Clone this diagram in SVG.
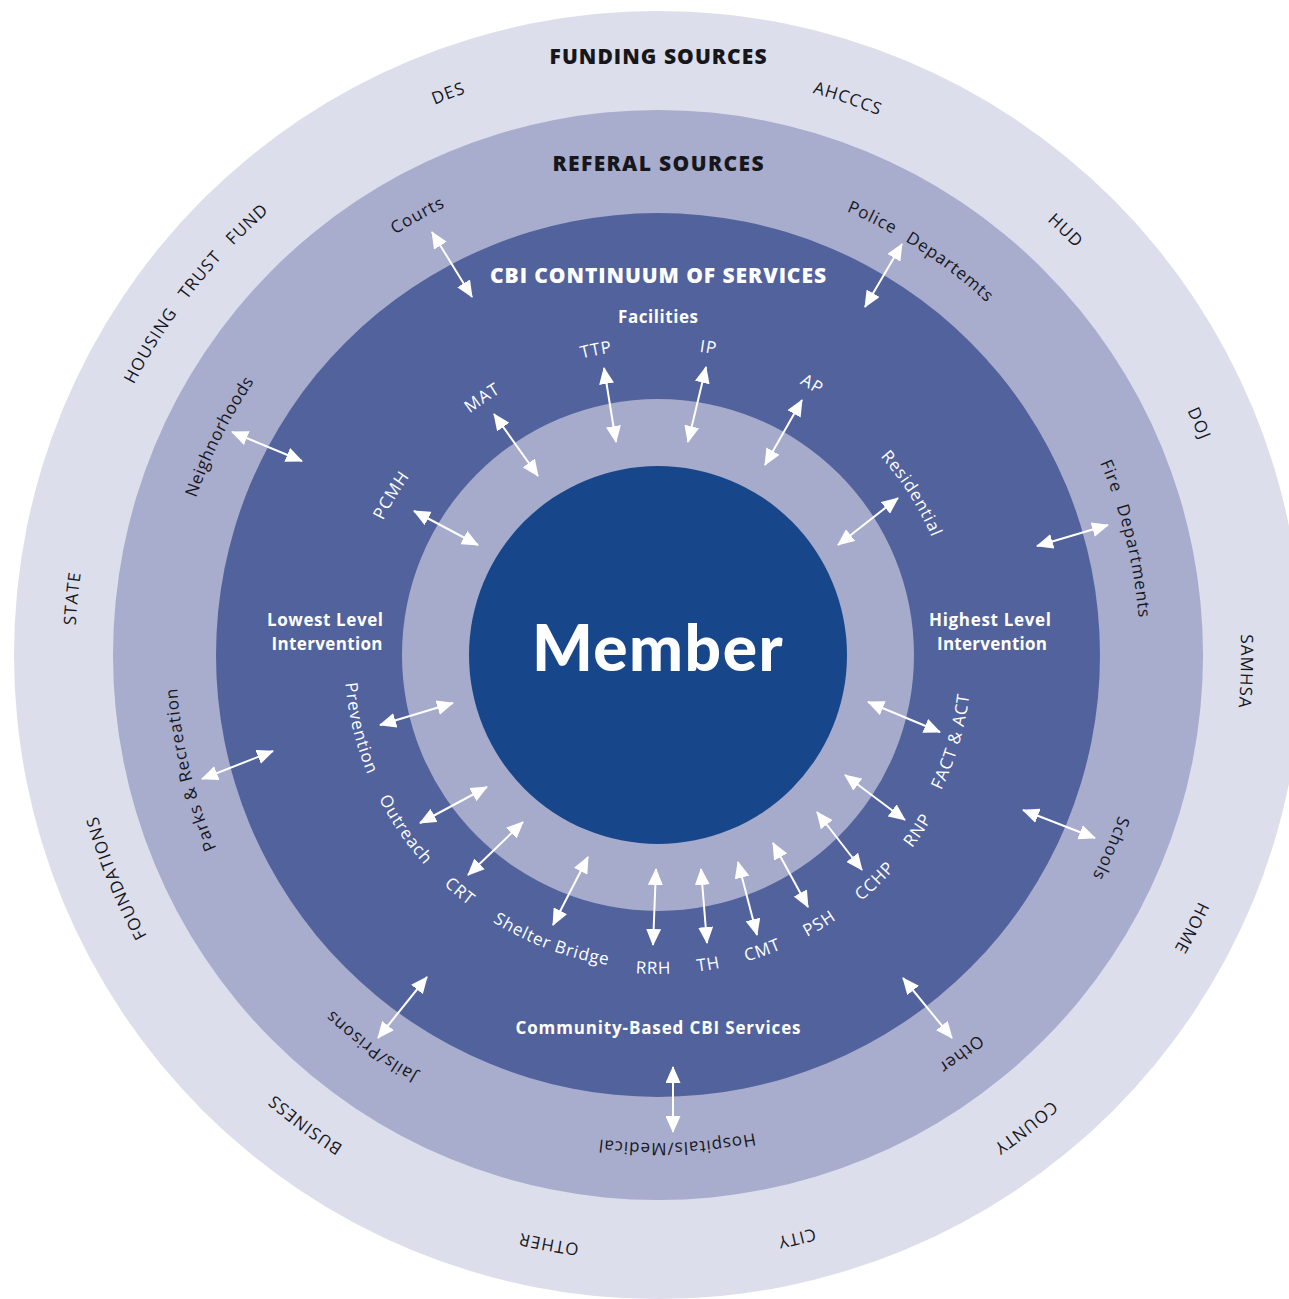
<svg xmlns="http://www.w3.org/2000/svg" xmlns:xlink="http://www.w3.org/1999/xlink" width="1289" height="1299" viewBox="0 0 1289 1299">
<style>
text{font-family:"Open Sans",Lato,"Liberation Sans",sans-serif}
.outer{font-size:17px;fill:#17171b;letter-spacing:1px}
.ref{font-size:17px;fill:#17171b;letter-spacing:0.9px}
.svc{font-size:17px;fill:#ffffff;letter-spacing:0.9px}
.hdr{font-weight:700;text-anchor:middle}
.ttl{font-weight:800;font-size:21px}
.sub{font-size:17px}
.dark{fill:#17171b}
.white{fill:#ffffff}
.mem{font-family:Lato,"Open Sans",sans-serif;font-size:64px;font-weight:900;fill:#ffffff;text-anchor:middle;letter-spacing:1.5px}
.conn line{stroke:#ffffff;stroke-width:2;marker-start:url(#ah);marker-end:url(#ah)}
</style>
<defs>
<marker id="ah" viewBox="0 0 17 15" refX="16" refY="7.5" markerWidth="17" markerHeight="15" markerUnits="userSpaceOnUse" orient="auto-start-reverse"><path d="M0,0 L17,7.5 L0,15 z" fill="#ffffff"/></marker>
<path id="cw583" d="M658,72 A583,583 0 0 1 658,1238 A583,583 0 0 1 658,72 A583,583 0 0 1 658,1238 A583,583 0 0 1 658,72"/>
<path id="cw590" d="M658,65 A590,590 0 0 1 658,1245 A590,590 0 0 1 658,65 A590,590 0 0 1 658,1245 A590,590 0 0 1 658,65"/>
<path id="cw594" d="M658,61 A594,594 0 0 1 658,1249 A594,594 0 0 1 658,61 A594,594 0 0 1 658,1249 A594,594 0 0 1 658,61"/>
<path id="cw482" d="M658,173 A482,482 0 0 1 658,1137 A482,482 0 0 1 658,173 A482,482 0 0 1 658,1137 A482,482 0 0 1 658,173"/>
<path id="cw488" d="M658,167 A488,488 0 0 1 658,1143 A488,488 0 0 1 658,167 A488,488 0 0 1 658,1143 A488,488 0 0 1 658,167"/>
<path id="cw496" d="M658,159 A496,496 0 0 1 658,1151 A496,496 0 0 1 658,159 A496,496 0 0 1 658,1151 A496,496 0 0 1 658,159"/>
<path id="cw306" d="M658,349 A306,306 0 0 1 658,961 A306,306 0 0 1 658,349 A306,306 0 0 1 658,961 A306,306 0 0 1 658,349"/>
<path id="cw298" d="M658,357 A298,298 0 0 1 658,953 A298,298 0 0 1 658,357 A298,298 0 0 1 658,953 A298,298 0 0 1 658,357"/>
<path id="ccw314" d="M658,341 A314,314 0 0 0 658,969 A314,314 0 0 0 658,341 A314,314 0 0 0 658,969 A314,314 0 0 0 658,341"/>
<path id="ccw319" d="M658,336 A319,319 0 0 0 658,974 A319,319 0 0 0 658,336 A319,319 0 0 0 658,974 A319,319 0 0 0 658,336"/>
</defs>
<rect width="1289" height="1299" fill="#ffffff"/>

<g id="ring-funding">
<circle cx="658" cy="655" r="644" fill="#DCDEEC"/>
<text class="hdr ttl dark" x="658" y="64" textLength="217" lengthAdjust="spacing">FUNDING SOURCES</text>
</g>
<g id="ring-referral">
<circle cx="658" cy="655" r="545" fill="#A8ACCD"/>
<text class="hdr ttl dark" x="658" y="171" textLength="211" lengthAdjust="spacing">REFERAL SOURCES</text>
</g>
<g id="ring-cbi">
<circle cx="658" cy="655" r="442" fill="#51629D"/>
<text class="hdr ttl white" x="658" y="283" textLength="336" lengthAdjust="spacing">CBI CONTINUUM OF SERVICES</text>
<text class="hdr sub white" x="658" y="323" textLength="80" lengthAdjust="spacing">Facilities</text>
<text class="hdr sub white" x="325" y="626" textLength="116" lengthAdjust="spacing">Lowest Level</text>
<text class="hdr sub white" x="327" y="650" textLength="111" lengthAdjust="spacing">Intervention</text>
<text class="hdr sub white" x="990" y="626" textLength="122" lengthAdjust="spacing">Highest Level</text>
<text class="hdr sub white" x="992" y="650" textLength="110" lengthAdjust="spacing">Intervention</text>
<text class="hdr sub white" x="658" y="1034" textLength="285" lengthAdjust="spacing">Community-Based CBI Services</text>
</g>
<g id="ring-inner">
<circle cx="658" cy="655" r="256" fill="#A6ABCB"/>
</g>
<g id="node-member">
<circle cx="658" cy="655" r="189" fill="#17468A"/>
<text class="mem" x="658" y="671">Member</text>
</g>

<g id="funding-sources">
<g id="f-des"><text class="outer"><textPath xlink:href="#cw594" href="#cw594" startOffset="3519.7" text-anchor="middle">DES</textPath></text></g>
<g id="f-ahcccs"><text class="outer"><textPath xlink:href="#cw583" href="#cw583" startOffset="3854.4" text-anchor="middle">AHCCCS</textPath></text></g>
<g id="f-hud"><text class="outer"><textPath xlink:href="#cw583" href="#cw583" startOffset="4108.8" text-anchor="middle">HUD</textPath></text></g>
<g id="f-doj"><text class="outer"><textPath xlink:href="#cw583" href="#cw583" startOffset="4342.8" text-anchor="middle">DOJ</textPath></text></g>
<g id="f-samhsa"><text class="outer"><textPath xlink:href="#cw583" href="#cw583" startOffset="932.1" text-anchor="middle">SAMHSA</textPath></text></g>
<g id="f-home"><text class="outer"><textPath xlink:href="#cw594" href="#cw594" startOffset="1214.0" text-anchor="middle">HOME</textPath></text></g>
<g id="f-county"><text class="outer"><textPath xlink:href="#cw594" href="#cw594" startOffset="1473.2" text-anchor="middle">COUNTY</textPath></text></g>
<g id="f-city"><text class="outer"><textPath xlink:href="#cw594" href="#cw594" startOffset="1727.2" text-anchor="middle">CITY</textPath></text></g>
<g id="f-other"><text class="outer"><textPath xlink:href="#cw594" href="#cw594" startOffset="1975.0" text-anchor="middle">OTHER</textPath></text></g>
<g id="f-business"><text class="outer"><textPath xlink:href="#cw583" href="#cw583" startOffset="2207.0" text-anchor="middle">BUSINESS</textPath></text></g>
<g id="f-foundations"><text class="outer"><textPath xlink:href="#cw583" href="#cw583" startOffset="2519.4" text-anchor="middle">FOUNDATIONS</textPath></text></g>
<g id="f-state"><text class="outer"><textPath xlink:href="#cw583" href="#cw583" startOffset="2803.3" text-anchor="middle">STATE</textPath></text></g>
<g id="f-htf"><text class="outer" word-spacing="10"><textPath xlink:href="#cw590" href="#cw590" startOffset="3171.0" text-anchor="middle">HOUSING TRUST FUND</textPath></text></g>
</g>

<g id="referral-sources">
<g id="r-courts"><text class="ref"><textPath xlink:href="#cw496" href="#cw496" startOffset="2868.0" text-anchor="middle">Courts</textPath></text></g>
<g id="r-police"><text class="ref" word-spacing="8"><textPath xlink:href="#cw482" href="#cw482" startOffset="3306.1" text-anchor="middle">Police Departemts</textPath></text></g>
<g id="r-fire"><text class="ref" word-spacing="8"><textPath xlink:href="#cw482" href="#cw482" startOffset="3667.9" text-anchor="middle">Fire Departments</textPath></text></g>
<g id="r-schools"><text class="ref"><textPath xlink:href="#cw488" href="#cw488" startOffset="963.3" text-anchor="middle">Schools</textPath></text></g>
<g id="r-other"><text class="ref"><textPath xlink:href="#cw496" href="#cw496" startOffset="1236.2" text-anchor="middle">Other</textPath></text></g>
<g id="r-hospitals"><text class="ref"><textPath xlink:href="#cw488" href="#cw488" startOffset="1513.5" text-anchor="middle">Hospitals/Medical</textPath></text></g>
<g id="r-jails"><text class="ref"><textPath xlink:href="#cw482" href="#cw482" startOffset="1818.8" text-anchor="middle">Jails/Prisons</textPath></text></g>
<g id="r-parks"><text class="ref"><textPath xlink:href="#cw482" href="#cw482" startOffset="2155.3" text-anchor="middle">Parks &amp; Recreation</textPath></text></g>
<g id="r-neighborhoods"><text class="ref" style="letter-spacing:0.6px"><textPath xlink:href="#cw488" href="#cw488" startOffset="2524.0" text-anchor="middle">Neighnorhoods</textPath></text></g>
</g>

<g id="services">
<g id="s-pcmh"><text class="svc"><textPath xlink:href="#cw306" href="#cw306" startOffset="1606.5" text-anchor="middle">PCMH</textPath></text></g>
<g id="s-mat"><text class="svc"><textPath xlink:href="#cw306" href="#cw306" startOffset="1738.4" text-anchor="middle">MAT</textPath></text></g>
<g id="s-ttp"><text class="svc"><textPath xlink:href="#cw306" href="#cw306" startOffset="1860.7" text-anchor="middle">TTP</textPath></text></g>
<g id="s-ip"><text class="svc"><textPath xlink:href="#cw306" href="#cw306" startOffset="1971.8" text-anchor="middle">IP</textPath></text></g>
<g id="s-ap"><text class="svc"><textPath xlink:href="#cw306" href="#cw306" startOffset="2080.2" text-anchor="middle">AP</textPath></text></g>
<g id="s-residential"><text class="svc"><textPath xlink:href="#cw298" href="#cw298" startOffset="2170.9" text-anchor="middle">Residential</textPath></text></g>
<g id="s-prevention"><text class="svc"><textPath xlink:href="#ccw314" href="#ccw314" startOffset="568.9" text-anchor="middle">Prevention</textPath></text></g>
<g id="s-outreach"><text class="svc"><textPath xlink:href="#ccw314" href="#ccw314" startOffset="682.8" text-anchor="middle">Outreach</textPath></text></g>
<g id="s-crt"><text class="svc"><textPath xlink:href="#ccw314" href="#ccw314" startOffset="767.2" text-anchor="middle">CRT</textPath></text></g>
<g id="s-shelter"><text class="svc"><textPath xlink:href="#ccw314" href="#ccw314" startOffset="874.1" text-anchor="middle">Shelter Bridge</textPath></text></g>
<g id="s-rrh"><text class="svc"><textPath xlink:href="#ccw319" href="#ccw319" startOffset="997.2" text-anchor="middle">RRH</textPath></text></g>
<g id="s-th"><text class="svc"><textPath xlink:href="#ccw319" href="#ccw319" startOffset="1053.4" text-anchor="middle">TH</textPath></text></g>
<g id="s-cmt"><text class="svc"><textPath xlink:href="#ccw319" href="#ccw319" startOffset="1110.2" text-anchor="middle">CMT</textPath></text></g>
<g id="s-psh"><text class="svc"><textPath xlink:href="#ccw319" href="#ccw319" startOffset="1174.2" text-anchor="middle">PSH</textPath></text></g>
<g id="s-cchp"><text class="svc"><textPath xlink:href="#ccw319" href="#ccw319" startOffset="1245.5" text-anchor="middle">CCHP</textPath></text></g>
<g id="s-rnp"><text class="svc"><textPath xlink:href="#ccw319" href="#ccw319" startOffset="1313.4" text-anchor="middle">RNP</textPath></text></g>
<g id="s-fact"><text class="svc"><textPath xlink:href="#ccw314" href="#ccw314" startOffset="1389.3" text-anchor="middle">FACT &amp; ACT</textPath></text></g>
</g>

<g id="connectors" class="conn">
<line x1="414" y1="511" x2="478" y2="545"/>
<line x1="494" y1="414" x2="538" y2="476"/>
<line x1="604" y1="368" x2="616" y2="442"/>
<line x1="706" y1="367" x2="688" y2="442"/>
<line x1="802" y1="400" x2="765" y2="465"/>
<line x1="898" y1="498" x2="838" y2="545"/>
<line x1="380" y1="725" x2="453" y2="703"/>
<line x1="420" y1="823" x2="487" y2="787"/>
<line x1="468" y1="875" x2="523" y2="822"/>
<line x1="553" y1="925" x2="588" y2="857"/>
<line x1="653" y1="945" x2="656" y2="869"/>
<line x1="707" y1="943" x2="701" y2="869"/>
<line x1="757" y1="935" x2="738" y2="862"/>
<line x1="808" y1="907" x2="773" y2="843"/>
<line x1="862" y1="870" x2="817" y2="812"/>
<line x1="905" y1="820" x2="845" y2="775"/>
<line x1="940" y1="732" x2="868" y2="702"/>
<line x1="432" y1="232" x2="472" y2="297"/>
<line x1="902" y1="244" x2="865" y2="307"/>
<line x1="232" y1="432" x2="302" y2="461"/>
<line x1="1108" y1="525" x2="1037" y2="546"/>
<line x1="202" y1="779" x2="273" y2="751"/>
<line x1="1023" y1="810" x2="1095" y2="838"/>
<line x1="903" y1="978" x2="952" y2="1038"/>
<line x1="673" y1="1067" x2="673" y2="1132"/>
<line x1="427" y1="977" x2="378" y2="1038"/>
</g>
</svg>
